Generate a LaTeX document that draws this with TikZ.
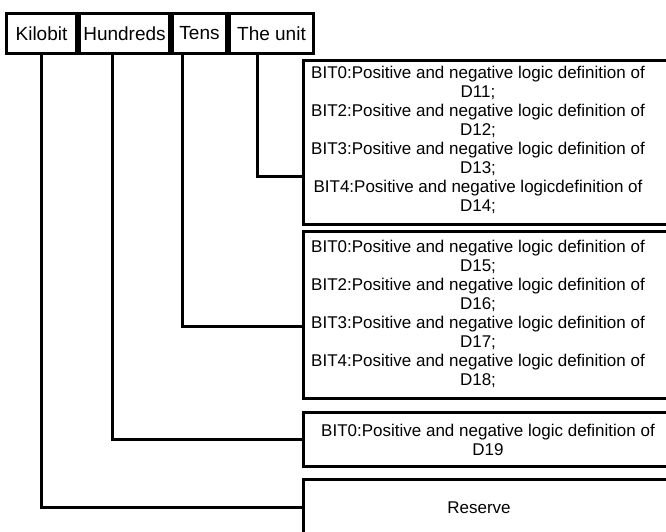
\documentclass[tikz,border=0pt]{standalone}
\usepackage{fontspec}
\setmainfont{Liberation Sans}
\usetikzlibrary{positioning, calc}

\begin{document}
\begin{tikzpicture}[x=1pt, y=-1pt,
    head/.style={draw, line width=3pt, minimum height=40pt, inner sep=0pt, font=\fontsize{19}{22}\selectfont},
    rbox/.style={draw, line width=3pt, minimum width=420pt, anchor=north west, inner sep=0pt},
    txt/.style={align=center, inner sep=0pt, font=\fontsize{17}{19}\selectfont},
    link/.style={line width=3pt}
]
    \useasboundingbox (0,0) rectangle (666,531);
    \clip (0,0) rectangle (666,531);

    \node (kilo) [head, minimum width=70pt, anchor=north west] at (5,12) {Kilobit};
    \node (hund) [head, minimum width=90pt, right=0pt of kilo] {Hundreds};
    \node (tens) [head, minimum width=54pt, right=0pt of hund] {Tens};
    \node (unit) [head, minimum width=84pt, right=0pt of tens] {The unit};

    \node (b1) [rbox, minimum height=164pt] at (302,59) {};
    \node (b2) [rbox, minimum height=167pt] at (302,230) {};
    \node (b3) [rbox, minimum height=54pt] at (302,411) {};
    \node (b4) [rbox, minimum height=56pt] at (302,478) {};

    \node (t1) [txt] at ([xshift=176pt, yshift=3pt]b1.west) {BIT0:Positive and negative logic definition of\\D11;\\BIT2:Positive and negative logic definition of\\D12;\\BIT3:Positive and negative logic definition of\\D13;\\BIT4:Positive and negative logicdefinition of\\D14;};
    \node (t2) [txt] at ([xshift=176pt, yshift=1pt]b2.west) {BIT0:Positive and negative logic definition of\\D15;\\BIT2:Positive and negative logic definition of\\D16;\\BIT3:Positive and negative logic definition of\\D17;\\BIT4:Positive and negative logic definition of\\D18;};
    \node (t3) [txt] at ([xshift=186pt]b3.west) {BIT0:Positive and negative logic definition of\\D19};
    \node (t4) [txt] at ([xshift=177pt]b4.west) {Reserve};

    \draw [link] ([xshift=-14pt]unit.south) |- ([yshift=-34pt]b1.west);
    \draw [link] ([xshift=-17pt]tens.south) |- ([yshift=-11pt]b2.west);
    \draw [link] ([xshift=-12pt]hund.south) |- (b3.west);
    \draw [link] (kilo.south) |- (b4.west);
\end{tikzpicture}
\end{document}
